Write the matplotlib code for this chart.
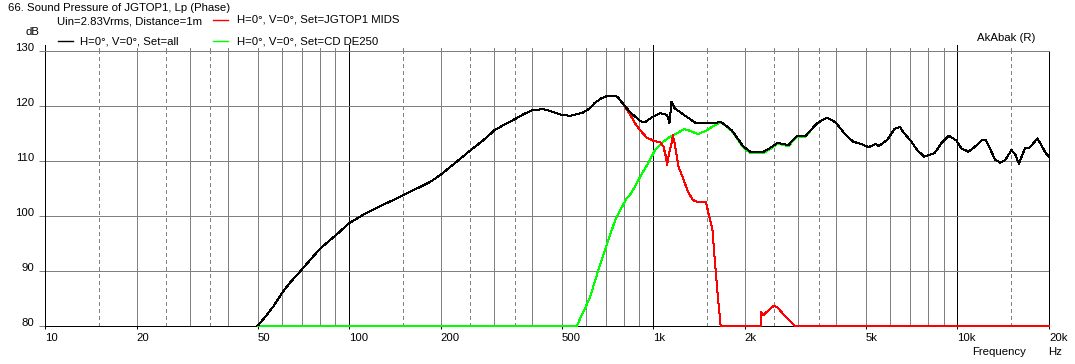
import matplotlib.pyplot as plt

# summed response (Set=all)
freq_all = [50, 53.6, 56.4, 60, 63.9, 69, 74.4, 80.7, 90.4, 100, 113.5, 126.5, 134.7,
            149.8, 167, 184.7, 200, 226, 250, 276.5, 300.6, 326, 350, 374.5, 401,
            435.7, 459, 490, 534, 587, 619, 640, 675, 712, 750, 765, 795, 838, 905,
            935, 1000, 1053, 1110, 1130, 1148, 1175, 1260, 1380, 1490, 1580, 1670,
            1810, 1980, 2080, 2310, 2460, 2560, 2780, 2960, 3160, 3460, 3730, 3980,
            4250, 4540, 4840, 5100, 5370, 5520, 5890, 6200, 6480, 6620, 7060, 7370,
            7770, 8400, 8850, 9370, 9930, 10300, 10860, 11420, 12030, 12400, 13320,
            13840, 14380, 15050, 15520, 15920, 16670, 17180, 18330, 19530, 20000]
spl_all = [80.0, 82.0, 83.6, 85.9, 87.9, 89.9, 92.0, 94.2, 96.5, 98.7, 100.5, 101.8,
           102.5, 103.7, 105.0, 106.2, 107.5, 109.9, 111.9, 113.8, 115.6, 116.7,
           117.6, 118.5, 119.3, 119.4, 119.1, 118.5, 118.2, 118.8, 119.6, 120.5,
           121.4, 121.9, 121.9, 121.6, 120.4, 118.9, 117.3, 117.0, 118.1, 118.7,
           118.4, 116.9, 120.8, 119.6, 118.4, 116.9, 117.0, 116.9, 117.1, 115.6,
           112.6, 111.7, 111.7, 112.6, 113.3, 112.9, 114.5, 114.5, 116.9, 117.9,
           117.0, 115.0, 113.5, 113.1, 112.5, 113.1, 112.7, 113.9, 115.8, 116.2,
           115.3, 113.5, 112.0, 110.8, 111.4, 113.2, 114.6, 113.7, 112.3, 111.7,
           112.6, 113.8, 113.8, 110.2, 109.7, 110.2, 112.0, 111.1, 109.5, 112.3,
           112.3, 114.1, 111.4, 110.8]

# JGTOP1 MIDS (upper part, below 800 Hz it sits under the summed curve)
freq_mid = [795, 838, 870, 905, 950, 1000, 1053, 1080, 1100, 1110, 1130, 1145, 1160,
            1175, 1210, 1260, 1300, 1350, 1400, 1490, 1510, 1565, 1590, 1620, 1650,
            1665, 2255, 2262, 2300, 2480, 2550, 2690, 2930, 20000]
spl_mid = [120.4, 118.5, 116.9, 115.6, 114.3, 113.7, 113.4, 112.6, 110.8, 109.3,
           111.7, 112.9, 114.7, 113.2, 109.0, 106.5, 104.4, 102.9, 102.5, 102.5,
           101.1, 97.5, 92.6, 87.1, 82.3, 80.0, 80.0, 82.5, 82.0, 83.6, 83.5, 82.0,
           80.0, 80.0]

# CD DE250
freq_cd = [50, 560, 596, 620, 660, 705, 750, 795, 818, 845, 905, 975, 1013, 1080,
           1135, 1195, 1260, 1320, 1400, 1490, 1590, 1670, 1810, 1980, 2080, 2310,
           2460, 2560, 2780, 2960, 3160, 3460]
spl_cd = [80.0, 80.0, 83.2, 85.3, 90.2, 95.0, 99.3, 102.0, 103.2, 104.1, 107.1,
          110.2, 112.0, 113.5, 114.4, 115.0, 115.8, 115.5, 114.9, 115.5, 116.5,
          117.1, 115.5, 112.4, 111.5, 111.5, 112.4, 113.2, 112.7, 114.3, 114.4,
          116.9]

xtick_vals = [10, 20, 50, 100, 200, 500, 1000, 2000, 5000, 10000, 20000]
xtick_text = ['10', '20', '50', '100', '200', '500', '1k', '2k', '5k', '10k', '20k']
ytick_vals = [80, 90, 100, 110, 120, 130]

W, H = 1075, 364
plt.rcParams['font.family'] = ['Liberation Sans', 'DejaVu Sans']
plt.rcParams['font.size'] = 8.2

fig = plt.figure(figsize=(W / 100, H / 100), dpi=100)
ax = fig.add_axes([45 / W, 1 - 326 / H, (1049 - 45) / W, (326 - 51) / H])
ax.set_xscale('log')
ax.set_xlim(10, 20000)
ax.set_ylim(80, 130)

px = 0.72  # one pixel in points
grey = '#808080'
top = ax.get_xaxis_transform()

# vertical grid: black decades, grey 2..9, dashed 1.5/2.5/3.5
for d in [10, 100, 1000, 10000]:
    ax.axvline(d, color='black', lw=px, antialiased=False, zorder=1)
    ax.plot([d, d], [1.0, 1.0 + 6 / 275], color='black', lw=px, transform=top,
            clip_on=False, antialiased=False)
    for k in [1.5, 2.5, 3.5]:
        if d * k < 20000:
            ax.axvline(d * k, color=grey, lw=px, ls=(0, (4, 4)), antialiased=False, zorder=1)
            ax.plot([d * k, d * k], [1.0, 1.0 + 3 / 275], color=grey, lw=px,
                    transform=top, clip_on=False, antialiased=False)
    for k in range(2, 10):
        if d * k < 20000:
            ax.axvline(d * k, color=grey, lw=px, antialiased=False, zorder=1)
            ax.plot([d * k, d * k], [1.0, 1.0 + 3 / 275], color=grey, lw=px,
                    transform=top, clip_on=False, antialiased=False)

for v in [90, 100, 110, 120]:
    ax.axhline(v, color=grey, lw=px, antialiased=False, zorder=1)

ax.plot(freq_cd, spl_cd, color='#00ff00', lw=px, antialiased=False, zorder=3, clip_on=False)
ax.plot(freq_all[60:], spl_all[60:], color='#00ff00', lw=px, antialiased=False, zorder=3)
ax.plot(freq_all[:37], spl_all[:37], color='#ff0000', lw=px, antialiased=False, zorder=4)
ax.plot(freq_mid, spl_mid, color='#ff0000', lw=px, antialiased=False, zorder=4, clip_on=False)
ax.plot(freq_all, spl_all, color='black', lw=px, antialiased=False, zorder=5)

for side in ['left', 'bottom', 'right']:
    ax.spines[side].set_color('black')
    ax.spines[side].set_linewidth(px)
ax.spines['top'].set_color(grey)
ax.spines['top'].set_linewidth(px)

ax.set_xticks(xtick_vals)
ax.set_xticklabels(xtick_text)
ax.minorticks_off()
ax.tick_params(axis='x', length=2, width=px, pad=3, color='black')
for lab in ax.get_xticklabels():
    lab.set_horizontalalignment('left')
ax.set_yticks(ytick_vals)
ax.set_yticklabels([str(v) for v in ytick_vals])
ax.tick_params(axis='y', length=4, width=px, pad=4, color=grey)
for lab in ax.get_yticklabels():
    lab.set_verticalalignment('baseline')

# header texts
def ftext(x, y, s, **kw):
    fig.text(x / W, 1 - y / H, s, va='center', **kw)

ftext(8, 8, '66. Sound Pressure of JGTOP1, Lp (Phase)')
ftext(26, 32, 'dB')
ftext(57, 21, 'Uin=2.83Vrms, Distance=1m')
ftext(80, 41, 'H=0°, V=0°, Set=all')
ftext(237, 20, 'H=0°, V=0°, Set=JGTOP1 MIDS')
ftext(237, 41, 'H=0°, V=0°, Set=CD DE250')
ftext(977, 38, 'AkAbak (R)')
ftext(972, 352, 'Frequency')
ftext(1048, 352, 'Hz')

for x0, y0, c in [(58, 41, 'black'), (213, 20, '#ff0000'), (213, 41, '#00ff00')]:
    fig.add_artist(plt.Line2D([x0 / W, (x0 + 15) / W], [1 - y0 / H, 1 - y0 / H],
                              color=c, lw=1.0))

fig.savefig('out.png', dpi=100)
